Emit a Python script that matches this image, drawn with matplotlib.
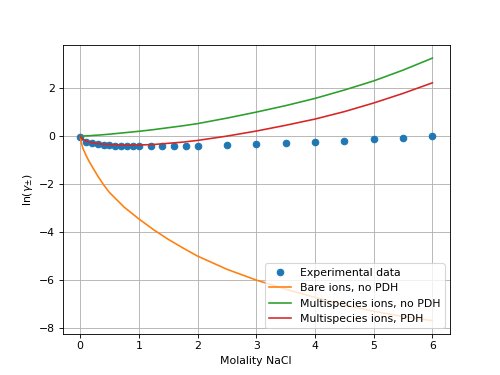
import matplotlib
matplotlib.use('Agg')
import matplotlib.pyplot as plt

# experimental ln(gamma) for NaCl
exp_m = [0.001, 0.1, 0.2, 0.3, 0.4, 0.5, 0.6, 0.7, 0.8, 0.9, 1.0,
         1.2, 1.4, 1.6, 1.8, 2.0, 2.5, 3.0, 3.5, 4.0, 4.5, 5.0, 5.5, 6.0]
exp_lng = [-0.034, -0.251, -0.308, -0.342, -0.367, -0.384, -0.396, -0.405,
           -0.412, -0.417, -0.420, -0.425, -0.423, -0.420, -0.412, -0.403,
           -0.374, -0.337, -0.293, -0.245, -0.191, -0.135, -0.075, -0.014]

# model curves
model_m = [0.0, 0.02, 0.05, 0.1, 0.15, 0.2, 0.3, 0.4, 0.5, 0.75, 1.0, 1.25,
           1.5, 1.75, 2.0, 2.5, 3.0, 3.5, 4.0, 4.5, 5.0, 5.5, 6.0]
bare = [0.0, -0.28, -0.52, -0.8, -1.04, -1.25, -1.66, -2.03, -2.35, -2.96,
        -3.45, -3.9, -4.3, -4.66, -5.0, -5.55, -6.0, -6.38, -6.72, -7.03,
        -7.3, -7.52, -7.69]
multi_nopdh = [0.0, 0.002, 0.004, 0.01, 0.015, 0.025, 0.04, 0.06, 0.08, 0.14,
               0.2, 0.27, 0.35, 0.43, 0.52, 0.75, 1.0, 1.27, 1.57, 1.92,
               2.3, 2.75, 3.25]
multi_pdh = [0.0, -0.09, -0.14, -0.2, -0.24, -0.27, -0.31, -0.34, -0.35,
             -0.37, -0.37, -0.35, -0.3, -0.25, -0.18, 0.0, 0.21, 0.45, 0.71,
             1.02, 1.38, 1.78, 2.22]

fig, ax = plt.subplots(figsize=(6.4, 4.8), dpi=500 / 6.4)
ax.plot(exp_m, exp_lng, 'o', label='Experimental data')
ax.plot(model_m, bare, label='Bare ions, no PDH')
ax.plot(model_m, multi_nopdh, label='Multispecies ions, no PDH')
ax.plot(model_m, multi_pdh, label='Multispecies ions, PDH')
ax.set_xlabel('Molality NaCl')
ax.set_ylabel(r'ln($\gamma_{\pm}$)')
ax.grid(True)
ax.legend(loc='lower right')
fig.savefig('out.png', dpi=500 / 6.4)
